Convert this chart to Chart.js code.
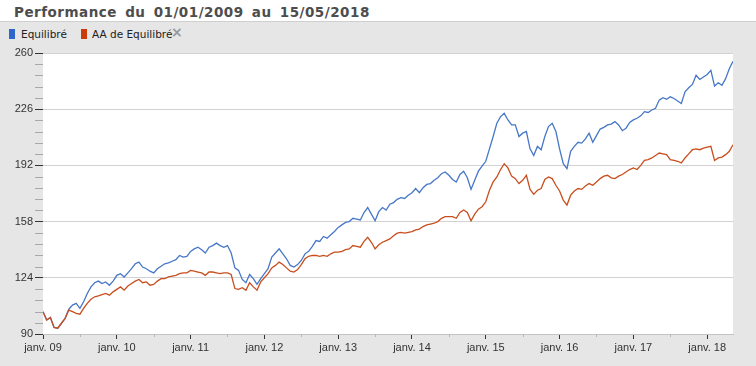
<!DOCTYPE html>
<html>
<head>
<meta charset="utf-8">
<script src="https://cdn.jsdelivr.net/npm/chart.js@4/dist/chart.umd.min.js"></script>
<style>
html,body{margin:0;padding:0;}
body{width:756px;height:366px;background:#e6e6e6;position:relative;overflow:hidden;}
#head{position:absolute;left:0;top:0;width:756px;height:21px;background:#fff;border-bottom:1px solid #cfcfcf;}
#title{position:absolute;left:14px;top:4px;font:bold 13.5px "DejaVu Sans",Verdana,sans-serif;letter-spacing:0.5px;word-spacing:3px;color:#4d4d4d;white-space:nowrap;}
.lg{position:absolute;font:10.5px "DejaVu Sans",Verdana,sans-serif;color:#222;line-height:13px;white-space:nowrap;}
.box{position:absolute;width:6px;height:10px;}
#x{position:absolute;left:171px;top:25px;font:bold 14px "DejaVu Sans",sans-serif;color:#9a9a9a;line-height:15px;}
canvas{position:absolute;left:0;top:0;}
</style>
</head>
<body>
<div id="head"><div id="title">Performance du 01/01/2009 au 15/05/2018</div></div>
<div class="box" style="left:9px;top:29px;background:#2f66c9;"></div>
<div class="lg" style="left:21px;top:28px;">Equilibré</div>
<div class="box" style="left:81px;top:29px;background:#cc3a0a;"></div>
<div class="lg" style="left:92px;top:28px;">AA de Equilibré</div>
<div id="x">×</div>
<canvas id="c" width="756" height="366"></canvas>
<script>
const startYear = 2009;
const stepYears = 0.05;

const equilibre = [
  103.5, 98.5, 100.0, 94.0, 93.5, 96.5, 99.5, 105.0, 107.5, 108.5, 105.5, 109.5, 114.5, 118.5, 121.0, 122.0, 120.5, 121.5, 119.5, 122.0,
  125.5, 126.5, 124.5, 127.0, 129.5, 132.5, 133.5, 130.5, 129.5, 128.0, 127.0, 129.5, 131.0, 132.5, 133.0, 134.0, 135.0, 137.5, 136.5, 137.0,
  140.0, 141.5, 142.5, 141.0, 139.0, 142.5, 143.5, 145.0, 143.5, 142.5, 143.5, 139.0, 130.0, 128.5, 123.0, 121.0, 126.0, 123.5, 120.0, 123.5,
  126.5, 129.5, 136.5, 139.0, 141.5, 138.5, 135.5, 131.5, 130.5, 132.0, 134.5, 138.5, 140.0, 143.0, 146.5, 146.0, 149.0, 148.0, 150.0, 152.0,
  154.5, 156.0, 157.5, 158.0, 160.0, 159.5, 159.0, 163.5, 166.5, 162.5, 158.5, 164.0, 166.5, 165.0, 168.5, 169.5, 171.5, 172.5, 172.0, 174.0,
  175.5, 178.0, 175.5, 178.5, 180.5, 181.0, 183.0, 184.5, 187.0, 188.0, 186.0, 183.5, 182.0, 186.5, 188.5, 184.5, 177.5, 183.0, 188.5, 191.5,
  194.5, 202.0, 209.5, 217.5, 221.5, 223.5, 219.5, 216.5, 216.5, 209.5, 211.5, 212.5, 202.0, 198.0, 203.5, 201.5, 209.5, 215.5, 217.5, 212.5,
  202.0, 193.0, 190.0, 200.5, 203.5, 206.0, 205.5, 208.0, 211.5, 206.0, 210.0, 214.0, 215.0, 216.5, 217.0, 218.5, 216.5, 213.0, 214.5, 218.0,
  219.5, 220.5, 222.0, 224.5, 224.0, 225.5, 226.5, 231.5, 233.0, 232.0, 233.5, 232.5, 231.0, 229.5, 236.5, 239.0, 241.0, 246.5, 244.0, 245.5,
  247.0, 249.5, 240.0, 242.0, 240.5, 244.5, 250.5, 255.0
];

const aaEquilibre = [
  103.5, 98.5, 100.0, 94.0, 93.5, 96.5, 99.5, 104.5, 103.5, 102.5, 102.0, 105.5, 108.5, 111.0, 112.5, 113.0, 113.8, 114.5, 113.5, 115.5,
  117.0, 118.5, 116.5, 119.0, 120.5, 122.0, 123.0, 121.0, 121.5, 119.5, 120.0, 122.0, 123.5, 123.5, 124.5, 125.0, 125.5, 126.5, 127.0, 127.0,
  128.5, 128.0, 127.5, 127.0, 125.5, 127.5, 127.5, 127.0, 126.5, 127.0, 127.0, 126.0, 117.5, 117.0, 118.0, 116.5, 121.0, 118.5, 116.5, 121.5,
  124.0, 126.5, 130.0, 131.5, 133.5, 132.0, 130.0, 128.0, 127.5, 129.0, 132.0, 135.5, 137.0, 137.5, 137.5, 137.0, 137.5, 137.0, 138.5, 139.5,
  139.5, 140.0, 141.0, 141.5, 143.5, 143.0, 142.5, 146.0, 148.5, 145.5, 141.5, 144.0, 145.5, 146.5, 147.5, 149.5, 151.0, 151.5, 151.0, 151.5,
  152.0, 153.0, 153.5, 155.0, 156.0, 156.5, 157.0, 158.0, 160.0, 161.0, 161.0, 161.0, 160.0, 163.5, 165.0, 163.5, 158.5, 162.5, 165.5, 167.0,
  170.0, 177.0, 182.0, 185.0, 189.5, 193.0, 190.5, 185.5, 184.0, 181.0, 183.0, 186.0, 177.5, 174.5, 177.0, 178.0, 183.5, 185.0, 184.0, 180.0,
  176.5, 171.0, 168.0, 174.0, 176.5, 178.0, 177.5, 179.5, 181.0, 180.0, 182.0, 184.0, 185.5, 186.0, 184.5, 184.0, 185.5, 186.5, 188.0, 189.5,
  190.5, 189.5, 192.0, 195.0, 195.5, 196.5, 198.0, 199.5, 199.0, 198.5, 195.5, 195.0, 194.5, 193.5, 196.5, 199.0, 201.5, 202.0, 201.5, 202.5,
  203.0, 203.5, 195.0, 196.5, 197.0, 198.5, 200.5, 204.5
];

const xTickYears = [2009, 2010, 2011, 2012, 2013, 2014, 2015, 2016, 2017, 2018];
const xTickLabels = ['janv. 09', 'janv. 10', 'janv. 11', 'janv. 12', 'janv. 13', 'janv. 14', 'janv. 15', 'janv. 16', 'janv. 17', 'janv. 18'];
const yTickValues = [90, 124, 158, 192, 226, 260];

const toPoints = arr => arr.map((v, i) => ({ x: +(startYear + i * stepYears).toFixed(2), y: v }));
const lastX = +(startYear + (equilibre.length - 1) * stepYears).toFixed(2);

const plotBg = {
  id: 'plotBg',
  beforeDraw(chart) {
    const { ctx, chartArea: a } = chart;
    ctx.save();
    ctx.fillStyle = '#ffffff';
    ctx.fillRect(a.left, a.top, a.right - a.left, a.bottom - a.top);
    ctx.restore();
  }
};

const minorTicks = {
  id: 'minorTicks',
  afterDraw(chart) {
    const { ctx, scales: { x, y }, chartArea: a } = chart;
    ctx.save();
    ctx.lineWidth = 1;
    ctx.strokeStyle = '#a8a8a8';
    const ymin = yTickValues[0], ystep = (yTickValues[1] - yTickValues[0]) / 5;
    for (let k = 1; k < 25; k++) {
      if (k % 5 === 0) continue;
      const py = Math.round(y.getPixelForValue(ymin + ystep * k)) + 0.5;
      ctx.beginPath(); ctx.moveTo(a.left - 8, py); ctx.lineTo(a.left, py); ctx.stroke();
    }
    ctx.strokeStyle = '#b8b8b8';
    for (let i = 0; i < xTickYears.length; i++) {
      const v = xTickYears[i] + 0.5;
      if (v > lastX) break;
      const px = Math.round(x.getPixelForValue(v)) + 0.5;
      ctx.beginPath(); ctx.moveTo(px, a.bottom); ctx.lineTo(px, a.bottom + 3); ctx.stroke();
    }
    ctx.restore();
  }
};

const axisFont = { family: '"Liberation Sans", Arial, sans-serif', size: 11 };

new Chart(document.getElementById('c'), {
  type: 'line',
  data: {
    datasets: [
      { label: 'AA de Equilibré', data: toPoints(aaEquilibre), borderColor: '#c84e1e', borderWidth: 1.3, pointRadius: 0, tension: 0, fill: false },
      { label: 'Equilibré', data: toPoints(equilibre), borderColor: '#4677c8', borderWidth: 1.3, pointRadius: 0, tension: 0, fill: false }
    ]
  },
  options: {
    responsive: false,
    animation: false,
    devicePixelRatio: 1,
    layout: { padding: { left: 0, top: 53, right: 23, bottom: 0 } },
    plugins: { legend: { display: false }, tooltip: { enabled: false } },
    scales: {
      x: {
        type: 'linear', min: xTickYears[0], max: lastX,
        afterBuildTicks: s => { s.ticks = xTickYears.map(v => ({ value: v })); },
        afterFit: s => { s.height = 32; },
        ticks: { callback: (v, i) => xTickLabels[i], font: axisFont, color: '#333', padding: 2, maxRotation: 0, autoSkip: false },
        grid: { drawOnChartArea: false, drawTicks: true, tickLength: 5, tickColor: '#333' },
        border: { display: true, color: '#c4c4c4' }
      },
      y: {
        min: yTickValues[0], max: yTickValues[yTickValues.length - 1],
        afterBuildTicks: s => { s.ticks = yTickValues.map(v => ({ value: v })); },
        afterFit: s => { s.width = 43; },
        ticks: { callback: (v, i) => String(yTickValues[i]), font: axisFont, color: '#333', padding: 2, autoSkip: false },
        grid: { color: '#d2d2d2', tickLength: 8, tickColor: '#333' },
        border: { display: false }
      }
    }
  },
  plugins: [plotBg, minorTicks]
});
</script>
</body>
</html>
